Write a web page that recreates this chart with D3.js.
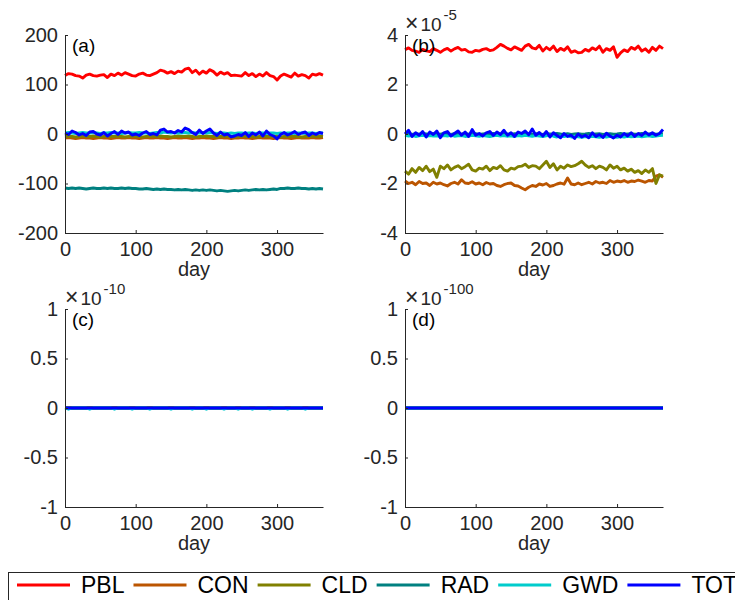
<!DOCTYPE html>
<html>
<head>
<meta charset="utf-8">
<script src="https://cdn.jsdelivr.net/npm/d3@7"></script>
<style>
  body { margin: 0; background: #fff; }
  svg { display: block; font-family: "Liberation Sans", Arial, Helvetica, sans-serif; }
</style>
</head>
<body>
<svg id="chart" width="735" height="600"></svg>
<script>
// series names + colours (MATLAB-ish)
const names  = ["PBL", "CON", "CLD", "RAD", "GWD", "TOT"];
const colors = ["#ff0000", "#bb5500", "#808000", "#008080", "#00cccc", "#0000ff"];

// sampled every 5 days, day 0..365
const days = d3.range(0, 366, 5);
const flatDays = [0, 365];
const flat = [0, 0];

const xTicks = [0, 100, 200, 300];
const yTicksA = [-200, -100, 0, 100, 200];
const yTicksB = [-4, -2, 0, 2, 4];
const yTicksCD = [-1, -0.5, 0, 0.5, 1];

// panel (a)
const PBL_a = [118,122,121,118,117,113,119,121,118,117,
  119,120,114,121,118,123,119,124,121,118,
  117,121,123,119,118,121,124,129,127,123,
  126,122,127,125,131,133,124,129,121,127,
  123,130,126,119,125,121,124,118,119,118,
  117,124,118,122,116,121,117,124,118,116,
  109,117,121,118,115,123,117,120,118,113,
  121,119,122,119];
const CON_a = [-8,-7,-8,-9,-8,-7,-8,-8,-9,-8,
  -7,-8,-8,-9,-8,-7,-8,-8,-7,-8,
  -8,-9,-8,-7,-8,-8,-7,-8,-8,-9,
  -8,-7,-8,-8,-7,-8,-9,-8,-8,-7,
  -8,-8,-9,-8,-7,-8,-8,-9,-8,-8,
  -7,-8,-8,-9,-8,-7,-8,-8,-8,-9,
  -8,-7,-8,-8,-9,-8,-7,-8,-8,-8,
  -7,-8,-8,-7];
const CLD_a = [-5,-4,-5,-6,-5,-4,-5,-5,-4,-5,
  -6,-5,-4,-5,-5,-4,-5,-6,-5,-4,
  -5,-5,-6,-5,-4,-5,-5,-4,-5,-5,
  -6,-5,-4,-5,-5,-4,-5,-6,-5,-5,
  -4,-5,-5,-6,-5,-4,-5,-5,-6,-5,
  -4,-5,-5,-5,-6,-5,-4,-5,-5,-4,
  -5,-6,-5,-5,-4,-5,-5,-6,-5,-4,
  -5,-5,-4,-5];
const RAD_a = [-109,-110,-109,-110,-109,-110,-111,-110,-109,-110,
  -110,-109,-110,-109,-110,-110,-109,-110,-109,-110,
  -110,-111,-111,-110,-111,-112,-111,-112,-111,-112,
  -112,-113,-112,-113,-112,-113,-114,-113,-114,-113,
  -114,-113,-114,-115,-114,-115,-116,-115,-114,-115,
  -114,-113,-114,-113,-112,-113,-112,-113,-112,-111,
  -112,-110,-110,-109,-110,-110,-109,-110,-110,-111,
  -110,-111,-110,-111];
const GWD_a = [2,3,2,1,2,3,2,2,3,2,
  1,2,2,3,2,2,1,2,3,2,
  2,3,2,2,1,2,3,2,4,3,
  2,3,2,2,3,2,3,2,2,3,
  2,3,2,1,2,2,1,2,1,2,
  2,1,2,2,1,2,2,1,2,2,
  1,2,1,2,2,1,2,2,1,2,
  2,1,2,2];
const TOT_a = [2,-1,6,3,-2,1,-3,4,5,0,
  -2,3,-4,1,5,-1,6,2,4,-2,
  0,-3,2,5,-1,1,-2,8,10,4,
  5,2,7,4,12,9,3,-1,8,1,
  6,10,2,-3,4,-2,0,-6,-4,-1,
  -3,3,-5,2,-2,4,-4,6,-1,-4,
  -10,-1,3,-2,1,5,-1,2,4,-3,
  2,-1,3,1];

// panel (b), x 1e-5
const PBL_b = [3.40,3.48,3.38,3.35,3.30,3.42,3.36,3.33,3.45,3.38,
  3.30,3.40,3.46,3.35,3.44,3.50,3.39,3.42,3.32,3.30,
  3.38,3.35,3.42,3.45,3.37,3.40,3.50,3.62,3.55,3.46,
  3.40,3.52,3.45,3.38,3.55,3.62,3.48,3.44,3.58,3.35,
  3.50,3.40,3.55,3.33,3.46,3.38,3.52,3.30,3.36,3.28,
  3.30,3.42,3.35,3.48,3.40,3.55,3.30,3.45,3.38,3.52,
  3.10,3.28,3.40,3.33,3.50,3.42,3.55,3.35,3.44,3.30,
  3.50,3.38,3.55,3.45];
const CON_b = [-1.90,-2.00,-1.95,-2.05,-1.92,-2.00,-1.98,-2.08,-1.95,-2.02,
  -1.98,-2.05,-2.10,-2.00,-1.95,-2.02,-1.85,-1.98,-2.00,-1.93,
  -2.02,-1.98,-2.05,-1.96,-2.02,-2.00,-2.08,-2.12,-2.05,-2.00,
  -1.98,-2.08,-2.10,-2.18,-2.25,-2.15,-2.08,-2.12,-2.02,-2.06,
  -2.00,-2.12,-2.08,-2.02,-1.98,-2.03,-1.78,-2.02,-2.05,-1.98,
  -2.05,-2.00,-1.95,-2.02,-1.92,-1.98,-1.95,-2.00,-1.88,-1.95,
  -1.90,-1.93,-1.88,-1.95,-1.90,-1.92,-1.86,-1.90,-1.95,-1.88,
  -1.90,-1.70,-1.65,-1.75];
const CLD_b = [-1.50,-1.62,-1.40,-1.55,-1.35,-1.48,-1.30,-1.52,-1.42,-1.75,
  -1.30,-1.40,-1.25,-1.45,-1.35,-1.28,-1.40,-1.32,-1.22,-1.45,
  -1.50,-1.38,-1.42,-1.30,-1.48,-1.35,-1.40,-1.28,-1.45,-1.50,
  -1.38,-1.42,-1.32,-1.30,-1.22,-1.35,-1.28,-1.30,-1.40,-1.25,
  -1.10,-1.35,-1.20,-1.45,-1.30,-1.38,-1.25,-1.32,-1.28,-1.20,
  -1.10,-1.25,-1.35,-1.28,-1.40,-1.30,-1.35,-1.45,-1.25,-1.38,
  -1.30,-1.45,-1.38,-1.50,-1.42,-1.55,-1.48,-1.60,-1.45,-1.55,
  -1.40,-2.00,-1.65,-1.70];
const RAD_b = [0.00,0.02,-0.02,0.01,-0.01,0.02,0.00,-0.02,0.01,0.00,
  -0.01,0.02,0.00,-0.02,0.01,-0.01,0.00,0.02,-0.01,0.00,
  0.01,-0.02,0.00,0.01,-0.01,0.02,0.00,-0.01,0.01,0.00,
  -0.02,0.01,0.00,-0.01,0.02,0.00,-0.01,0.01,0.00,-0.02,
  0.01,0.00,-0.01,0.02,0.00,-0.01,0.01,-0.02,0.00,0.01,
  -0.01,0.00,0.02,-0.01,0.00,0.01,-0.02,0.00,0.01,-0.01,
  0.00,0.02,-0.01,0.00,0.01,-0.01,0.00,0.02,-0.01,0.00,
  0.01,-0.01,0.00,0.01];
const GWD_b = [-0.05,-0.08,-0.06,-0.10,-0.07,-0.05,-0.09,-0.06,-0.08,-0.07,
  -0.10,-0.06,-0.08,-0.05,-0.09,-0.07,-0.06,-0.10,-0.08,-0.05,
  -0.07,-0.09,-0.06,-0.08,-0.10,-0.07,-0.05,-0.08,-0.06,-0.09,
  -0.07,-0.10,-0.06,-0.08,-0.05,-0.07,-0.09,-0.06,-0.08,-0.10,
  -0.07,-0.05,-0.09,-0.12,-0.08,-0.10,-0.07,-0.12,-0.09,-0.11,
  -0.13,-0.10,-0.12,-0.09,-0.11,-0.13,-0.10,-0.12,-0.09,-0.11,
  -0.13,-0.10,-0.12,-0.09,-0.11,-0.10,-0.08,-0.11,-0.09,-0.07,
  -0.10,-0.08,-0.06,-0.05];
const TOT_b = [0.00,0.15,-0.10,0.05,-0.05,0.10,-0.12,0.08,-0.02,0.12,
  -0.15,0.05,0.10,-0.08,0.02,0.12,-0.05,0.08,-0.10,0.18,
  -0.05,0.02,-0.08,0.05,0.10,-0.06,0.08,-0.02,0.15,-0.05,
  0.05,-0.10,0.08,0.02,0.12,-0.03,0.20,-0.05,0.06,-0.08,
  0.10,-0.12,0.05,-0.06,-0.15,0.02,-0.10,-0.05,-0.18,0.00,
  -0.12,-0.05,-0.15,0.05,-0.10,-0.02,-0.14,0.03,-0.08,-0.16,
  -0.05,-0.12,0.02,-0.08,0.05,-0.10,0.02,-0.06,0.08,-0.04,
  0.05,-0.05,0.02,0.18];

// panel (c), x 1e-10 -- only GWD shows tiny specks
const GWD_c = [0,-0.012,0,0,0,0,0,-0.012,0,0,
  0,0,0,0,-0.012,0,0,0,0,-0.012,
  0,0,0,0,-0.012,0,0,0,0,0,
  -0.012,0,0,0,0,0,-0.012,0,0,0,
  -0.012,0,0,0,0,-0.012,0,0,0,-0.012,
  0,0,0,-0.012,0,0,0,0,-0.012,0,
  0,0,0,-0.012,0,0,0,0,-0.012,0,
  0,0,0,0];

const full = vals => ({ x: days, y: vals });
const zero = { x: flatDays, y: flat };

const panels = [
  { label: "(a)", left: 65,  top: 35,  yDom: [-200, 200], yTicks: yTicksA, exp: null,
    series: [PBL_a, CON_a, CLD_a, RAD_a, GWD_a, TOT_a].map(full) },
  { label: "(b)", left: 405, top: 35,  yDom: [-4, 4], yTicks: yTicksB, exp: "-5",
    series: [PBL_b, CON_b, CLD_b, RAD_b, GWD_b, TOT_b].map(full) },
  { label: "(c)", left: 65,  top: 309, yDom: [-1, 1], yTicks: yTicksCD, exp: "-10",
    series: [zero, zero, zero, zero, full(GWD_c), zero] },
  { label: "(d)", left: 405, top: 309, yDom: [-1, 1], yTicks: yTicksCD, exp: "-100",
    series: [zero, zero, zero, zero, zero, zero] }
];

const W = 258, H = 198;
const axisCol = "#262626";
const fs = "20px";
const svg = d3.select("#chart");

panels.forEach(p => {
  const g = svg.append("g").attr("transform", "translate(" + p.left + "," + p.top + ")");
  const x = d3.scaleLinear().domain([0, 365]).range([0, W]);
  const y = d3.scaleLinear().domain(p.yDom).range([H, 0]);

  const line = d3.line().x(d => x(d[0])).y(d => y(d[1]));

  p.series.forEach((s, i) => {
    g.append("path")
      .datum(s.x.map((dx, k) => [dx, s.y[k]]))
      .attr("d", line)
      .attr("fill", "none")
      .attr("stroke", colors[i])
      .attr("stroke-width", 2.9)
      .attr("stroke-linejoin", "round");
  });

  // axes, ticks pointing in like matlab
  const xa = g.append("g").attr("transform", "translate(0," + H + ")")
    .call(d3.axisBottom(x).tickValues(xTicks).tickSizeInner(-3).tickSizeOuter(0)
      .tickPadding(9).tickFormat(d => String(d)));
  const ya = g.append("g")
    .call(d3.axisLeft(y).tickValues(p.yTicks).tickSizeInner(-3).tickSizeOuter(0)
      .tickPadding(7).tickFormat(d => String(d)));
  [xa, ya].forEach(a => {
    a.selectAll("path, line").attr("stroke", axisCol);
    a.selectAll("text").attr("fill", axisCol).style("font-size", fs);
    a.attr("font-family", null);
  });

  g.append("text")
    .attr("x", W / 2).attr("y", H + 43)
    .attr("text-anchor", "middle")
    .attr("fill", axisCol)
    .style("font-size", fs)
    .text("day");

  g.append("text")
    .attr("x", 7).attr("y", 17)
    .attr("fill", "#000")
    .style("font-size", "19px")
    .text(p.label);

  if (p.exp) {
    const t = g.append("text").attr("x", 0).attr("y", -4)
      .attr("fill", axisCol).style("font-size", "19px");
    t.append("tspan").style("font-size", "23px").text("\u00d7");
    t.append("tspan").attr("dx", 2).text("10");
    t.append("tspan").attr("dx", 2).attr("dy", -11).style("font-size", "15px").text(p.exp);
  }
});

// legend
const leg = svg.append("g");
leg.append("rect")
  .attr("x", 8.5).attr("y", 572.5)
  .attr("width", 740).attr("height", 40)
  .attr("fill", "#fff")
  .attr("stroke", axisCol);

let lx = 17;
names.forEach((n, i) => {
  leg.append("line")
    .attr("x1", lx).attr("x2", lx + 53)
    .attr("y1", 585).attr("y2", 585)
    .attr("stroke", colors[i]).attr("stroke-width", 3);
  const t = leg.append("text")
    .attr("x", lx + 64).attr("y", 593)
    .attr("fill", "#000")
    .style("font-size", "23px")
    .text(n);
  lx = lx + 64 + t.node().getComputedTextLength() + 9;
});
</script>
</body>
</html>
